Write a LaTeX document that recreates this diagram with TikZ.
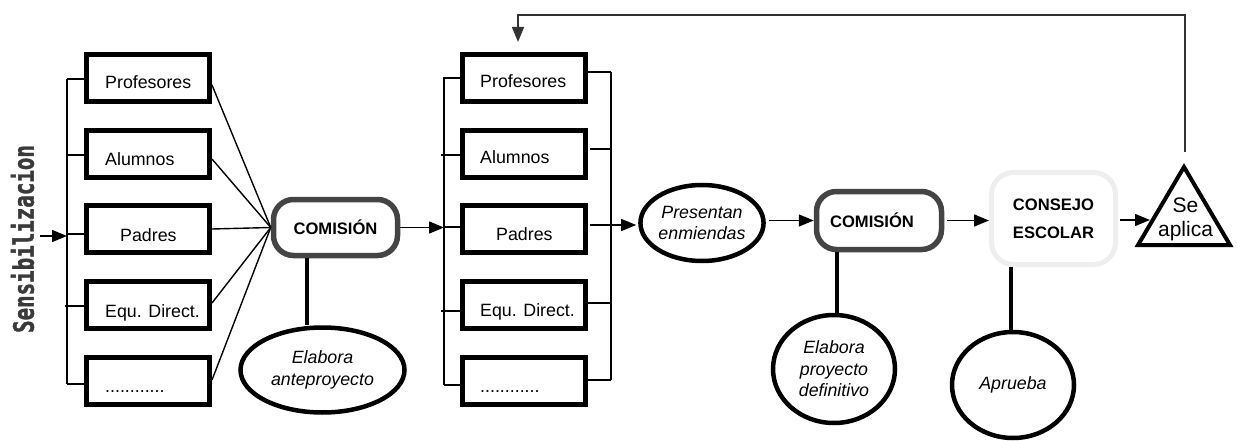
\documentclass[tikz,border=0pt]{standalone}
\usepackage{fontspec}
\setmainfont{Liberation Sans}
\newfontfamily\monofnt{DejaVu Sans Mono Bold}[FakeBold=1.6]
\usetikzlibrary{arrows.meta,shapes.geometric}
\definecolor{cdark}{HTML}{444444}
\definecolor{clight}{HTML}{EEEEEE}
\definecolor{cfb}{HTML}{333333}
\definecolor{csens}{HTML}{3A3A3A}
\begin{document}
\begin{tikzpicture}[x=1pt,y=-1pt,
 box/.style={draw,line width=5pt,minimum width=123pt,minimum height=47pt,inner sep=0pt},
 lbl/.style={font=\fontsize{17.8}{21}\selectfont,inner sep=0pt,anchor=base west},
 thinln/.style={line width=1.4pt},
 arr/.style={thinln,-{Triangle[length=15pt,width=12pt]}},
 comm/.style={draw=cdark,line width=5.5pt,rounded corners=20pt,inner sep=0pt,
   minimum width=124pt,minimum height=56pt,font=\bfseries\fontsize{16.6}{20}\selectfont},
 oval/.style={draw,ellipse,line width=4.5pt,inner sep=0pt,align=center,
   font=\itshape\fontsize{17.8}{21.5}\selectfont},
 stem/.style={line width=3.5pt}]

\useasboundingbox (0,0) rectangle (1237,441);

% Sensibilizacion
\node[rotate=90,text=csens,font=\monofnt\fontsize{20.8}{22}\selectfont,inner sep=0pt]
  (sens) at (22.5,239) {\scalebox{1}[1.35]{Sensibilizacion}};

% group 1 boxes
\node[box] (a1) at (148,78) {};
\node[box] (a2) at (148,154) {};
\node[box] (a3) at (148,229) {};
\node[box] (a4) at (148,305) {};
\node[box] (a5) at (148,381) {};
\node[lbl] (a1t) at (105,89) {Profesores};
\node[lbl] (a2t) at (105,165) {Alumnos};
\node[lbl] (a3t) at (120,241) {Padres};
\node[lbl] (a4t) at (105,317) {Equ. Direct.};
\node[lbl] (a5t) at (105,392) {............};

% group 2 boxes
\node[box] (b1) at (523.5,78) {};
\node[box] (b2) at (523.5,154) {};
\node[box] (b3) at (523.5,229) {};
\node[box] (b4) at (523.5,305) {};
\node[box] (b5) at (523.5,381) {};
\node[lbl] (b1t) at (480,88) {Profesores};
\node[lbl] (b2t) at (480,164) {Alumnos};
\node[lbl] (b3t) at (496,240) {Padres};
\node[lbl] (b4t) at (480,316) {Equ. Direct.};
\node[lbl] (b5t) at (480,392) {............};

% comisiones, ellipses
\node[comm] (c1) at (335.5,227.5) {COMISIÓN};
\node[oval,minimum width=164pt,minimum height=85pt] (e1) at (322.5,370) {Elabora\\anteproyecto};
\node[oval,minimum width=116pt,minimum height=76pt] (pe) at (702,223) {Presentan\\enmiendas};
\node[comm,minimum width=125pt,minimum height=58pt] (c2) at (879,220.5) {\hspace*{-14pt}COMISIÓN};
\node[oval,minimum width=122pt,minimum height=108pt] (e2) at (834,369) {Elabora\\proyecto\\definitivo};
\node[draw=clight,line width=5pt,rounded corners=22pt,inner sep=0pt,minimum width=124pt,
  minimum height=92pt,align=center,font=\bfseries\fontsize{16.6}{28}\selectfont]
  (ce) at (1053.5,218.5) {CONSEJO\\ESCOLAR};
\node[oval,minimum width=122pt,minimum height=106pt] (e3) at (1013,385) {Aprueba};

% triangle
\draw[line width=4pt,line join=miter] (1184,167) -- (1230,245) -- (1138,245) -- cycle;
\node[align=center,inner sep=0pt,font=\fontsize{21}{24}\selectfont] (tri) at (1185.5,219) {Se\\aplica};
\coordinate (tl) at (1150,220);

% left bracket group 1
\coordinate (lb) at (67,79);
\coordinate (lbb) at (67,384);
\draw[thinln] (lb) -- (lbb);
\draw[thinln] ([yshift=-1pt]a1.west) -- ([yshift=-1pt]a1.west -| lb);
\draw[thinln] ([yshift=-1pt]a2.west) -- ([yshift=-1pt]a2.west -| lb);
\draw[thinln] ([yshift=-5pt]a3.west) -- ([yshift=-5pt]a3.west -| lb);
\draw[thinln] ([yshift=-1pt,xshift=4pt]a4.west) -- ([yshift=-1pt,xshift=-2pt]a4.west -| lb);
\draw[thinln] ([yshift=-3pt]a5.west) -- ([yshift=-3pt]a5.west -| lb);
\coordinate (in) at (40,236);
\draw[arr] (in) -- (in -| lb);

% fan to comision 1
\draw[thinln] ([yshift=-7pt]a1.east) -- (c1.west);
\draw[thinln] ([yshift=-5pt]a2.east) -- (c1.west);
\draw[thinln] (a3.east) -- (c1.west);
\draw[thinln] ([yshift=2pt]a4.east) -- (c1.west);
\draw[thinln] ([yshift=1pt]a5.east) -- (c1.west);

% stem c1 -> e1
\coordinate (s1) at ([xshift=-28.5pt]c1.south);
\draw[stem] (s1) -- (s1 |- e1.north);

% c1 -> group 2
\coordinate (lb2) at (444,77);
\coordinate (lb2b) at (444,385);
\draw[arr] (c1.east) -- (c1.east -| lb2);
\draw[thinln] (lb2) -- (lb2b);
\draw[thinln] ([yshift=0pt]b1.west) -- ([yshift=0pt]b1.west -| lb2);
\draw[thinln] ([yshift=-1pt]b2.west) -- ([yshift=-1pt,xshift=-3pt]b2.west -| lb2);
\draw[thinln] ([yshift=2pt]b3.west) -- ([yshift=2pt]b3.west -| lb2);
\draw[thinln] ([yshift=-6pt]b4.west) -- ([yshift=-6pt,xshift=-3pt]b4.west -| lb2);
\draw[thinln] ([yshift=-4pt]b5.west) -- ([yshift=-4pt]b5.west -| lb2);

% right bracket group 2
\coordinate (rb2) at (611,72);
\coordinate (rb2b) at (611,380);
\draw[thinln] (rb2) -- (rb2b);
\draw[thinln] ([yshift=6pt]b1.east) -- ([yshift=6pt]b1.east -| rb2);
\draw[thinln] ([yshift=5pt,xshift=2pt]b2.east) -- ([yshift=5pt]b2.east -| rb2);
\draw[thinln] ([yshift=2pt]b4.east) -- ([yshift=2pt]b4.east -| rb2);
\draw[thinln] ([yshift=1pt]b5.east) -- ([yshift=1pt]b5.east -| rb2);
\draw[arr,shorten >=2pt] ([yshift=4pt,xshift=2pt]b3.east) -- ([yshift=4pt]b3.east -| pe.west);

% pe -> c2 -> ce -> tri
\draw[arr,shorten <=3pt] (pe.east |- c2.west) -- (c2.west);
\coordinate (s2) at ([xshift=-42pt]c2.south);
\draw[stem] (s2) -- (s2 |- e2.north);
\draw[arr,shorten <=3pt] (c2.east) -- (c2.east -| ce.west);
\coordinate (s3) at ([xshift=-42.5pt]ce.south);
\draw[stem] (s3) -- (s3 |- e3.north);
\draw[arr] ([xshift=2pt]ce.east |- tl) -- (tl);

% feedback
\coordinate (fb) at (1185,152);
\coordinate (top) at (0,15);
\draw[cfb,line width=1.5pt,-{Triangle[length=15pt,width=12pt]}]
  (fb) -- (fb |- top) -| ([xshift=-5.5pt,yshift=10pt]b1.north);
\end{tikzpicture}
\end{document}
